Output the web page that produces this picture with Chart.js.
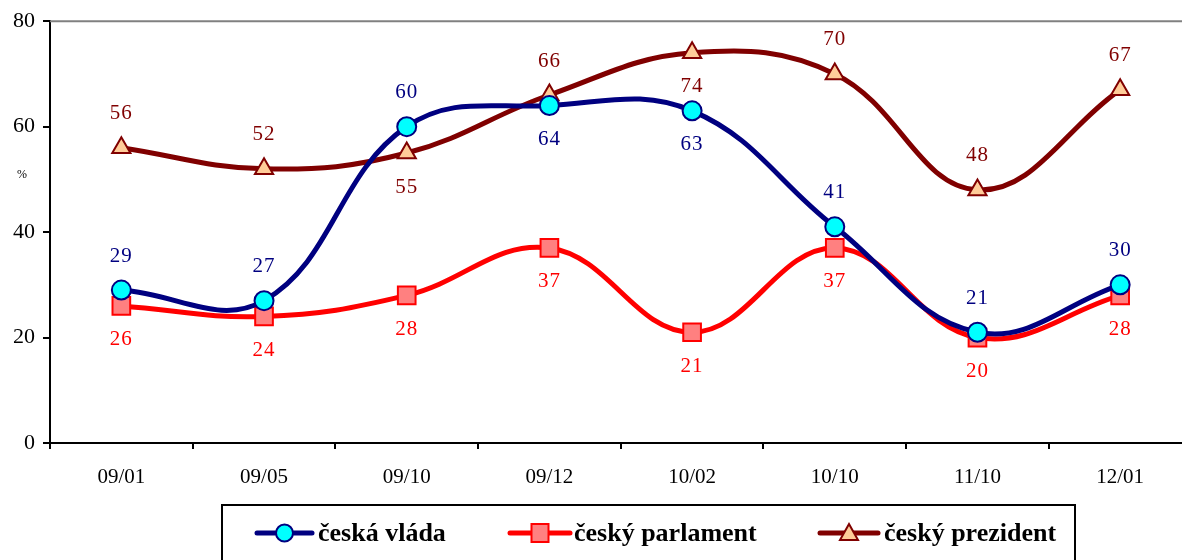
<!DOCTYPE html>
<html>
<head>
<meta charset="utf-8">
<script src="https://cdn.jsdelivr.net/npm/chart.js@4.4.1/dist/chart.umd.min.js"></script>
<style>
  html, body { margin: 0; padding: 0; background: #fff; overflow: hidden; }
  #wrap { width: 1206px; height: 560px; }
  #chart { display: block; }
</style>
</head>
<body>
<div id="wrap"><canvas id="chart" width="1206" height="560"></canvas></div>
<script>
// Data
const categories = ['09/01', '09/05', '09/10', '09/12', '10/02', '10/10', '11/10', '12/01'];
const vlada = [29, 27, 60, 64, 63, 41, 21, 30];
const parlament = [26, 24, 28, 37, 21, 37, 20, 28];
const prezident = [56, 52, 55, 66, 74, 70, 48, 67];

// label position per point: 1 = above, -1 = below
const vladaPos = [1, 1, 1, -1, -1, 1, 1, 1];
const parlamentPos = [-1, -1, -1, -1, -1, -1, -1, -1];
const prezidentPos = [1, 1, -1, 1, -1, 1, 1, 1];

const yTicks = [0, 20, 40, 60, 80];

const SERIF = "'Liberation Serif', 'Times New Roman', serif";

const series = [
    { label: 'česká vláda', data: vlada, pos: vladaPos, line: '#000080', fill: '#00FFFF', text: '#000080', shape: 'circle' },
    { label: 'český parlament', data: parlament, pos: parlamentPos, line: '#FF0000', fill: '#FF8080', text: '#FF0000', shape: 'rect' },
    { label: 'český prezident', data: prezident, pos: prezidentPos, line: '#800000', fill: '#FFCC99', text: '#800000', shape: 'triangle' }
];

// Draw a marker shape by hand (used in the legend)
function drawMarker(ctx, shape, x, y, fill, stroke) {
    ctx.save();
    ctx.fillStyle = fill;
    ctx.strokeStyle = stroke;
    ctx.lineWidth = 2;
    ctx.beginPath();
    if (shape === 'circle') {
        ctx.arc(x, y, 8.5, 0, Math.PI * 2);
    } else if (shape === 'rect') {
        ctx.rect(x - 8.5, y - 9, 17, 18);
    } else {
        ctx.moveTo(x, y - 9);
        ctx.lineTo(x + 9, y + 7);
        ctx.lineTo(x - 9, y + 7);
        ctx.closePath();
    }
    ctx.fill();
    ctx.stroke();
    ctx.restore();
}

// Point value labels, "%" label, top border and legend box
const extras = {
    id: 'extras',
    afterDatasetsDraw(chart) {
        const ctx = chart.ctx;
        const area = chart.chartArea;
        ctx.save();

        // top border of plot area
        ctx.strokeStyle = '#808080';
        ctx.lineWidth = 2;
        ctx.beginPath();
        ctx.moveTo(area.left, area.top);
        ctx.lineTo(area.right, area.top);
        ctx.stroke();

        // value labels
        ctx.font = '21px ' + SERIF;
        ctx.letterSpacing = '1px';
        ctx.textAlign = 'center';
        ctx.textBaseline = 'middle';
        chart.data.datasets.forEach((ds, i) => {
            const meta = chart.getDatasetMeta(i);
            const s = series[i];
            ctx.fillStyle = s.text;
            meta.data.forEach((pt, j) => {
                ctx.fillText(String(ds.data[j]), pt.x, pt.y - s.pos[j] * 34);
            });
        });
        ctx.letterSpacing = '0px';

        // "%" axis label
        ctx.fillStyle = '#000';
        ctx.font = '12px ' + SERIF;
        ctx.fillText('%', 22, 175);

        // legend
        const lx = 222, ly = 505, lw = 853, lh = 70;
        ctx.strokeStyle = '#000';
        ctx.lineWidth = 2;
        ctx.strokeRect(lx, ly, lw, lh);

        const items = [
            { x1: 257, x2: 312, tx: 318 },
            { x1: 510, x2: 570, tx: 574 },
            { x1: 820, x2: 878, tx: 884 }
        ];
        const cy = 533;
        ctx.font = 'bold 26px ' + SERIF;
        ctx.textAlign = 'left';
        items.forEach((it, i) => {
            const s = series[i];
            ctx.strokeStyle = s.line;
            ctx.lineWidth = 5;
            ctx.lineCap = 'round';
            ctx.beginPath();
            ctx.moveTo(it.x1, cy);
            ctx.lineTo(it.x2, cy);
            ctx.stroke();
            drawMarker(ctx, s.shape, (it.x1 + it.x2) / 2, cy, s.fill, s.line);
            ctx.fillStyle = '#000';
            ctx.fillText(s.label, it.tx, cy + 1);
        });

        ctx.restore();
    }
};

const pointRadius = { circle: 9.5, rect: 12.5, triangle: 10.5 };

const datasets = series.map(s => ({
    label: s.label,
    data: s.data,
    borderColor: s.line,
    borderWidth: 5,
    backgroundColor: s.fill,
    pointBackgroundColor: s.fill,
    pointBorderColor: s.line,
    pointBorderWidth: 2,
    pointStyle: s.shape,
    pointRadius: pointRadius[s.shape],
    pointHoverRadius: pointRadius[s.shape],
    tension: 0.4,
    fill: false
}));

new Chart(document.getElementById('chart'), {
    type: 'line',
    data: { labels: categories, datasets: datasets },
    options: {
        responsive: false,
        animation: false,
        layout: { padding: { top: 21, right: 0, left: 0, bottom: 0 } },
        plugins: {
            legend: { display: false },
            tooltip: { enabled: false }
        },
        scales: {
            x: {
                offset: true,
                grid: {
                    offset: true,
                    drawOnChartArea: false,
                    drawTicks: true,
                    tickLength: 6,
                    color: '#000',
                    lineWidth: 2
                },
                border: { color: '#000', width: 2 },
                ticks: {
                    color: '#000',
                    padding: 16,
                    maxRotation: 0,
                    font: { family: SERIF, size: 21 }
                },
                afterFit(scale) { scale.height = 117; }
            },
            y: {
                min: 0,
                max: 80,
                afterBuildTicks(scale) { scale.ticks = yTicks.map(v => ({ value: v })); },
                grid: {
                    drawOnChartArea: false,
                    drawTicks: true,
                    tickLength: 7,
                    color: '#000',
                    lineWidth: 2
                },
                border: { color: '#000', width: 2 },
                ticks: {
                    color: '#000',
                    padding: 8,
                    font: { family: SERIF, size: 22 }
                },
                afterFit(scale) { scale.width = 50; }
            }
        }
    },
    plugins: [extras]
});
</script>
</body>
</html>
